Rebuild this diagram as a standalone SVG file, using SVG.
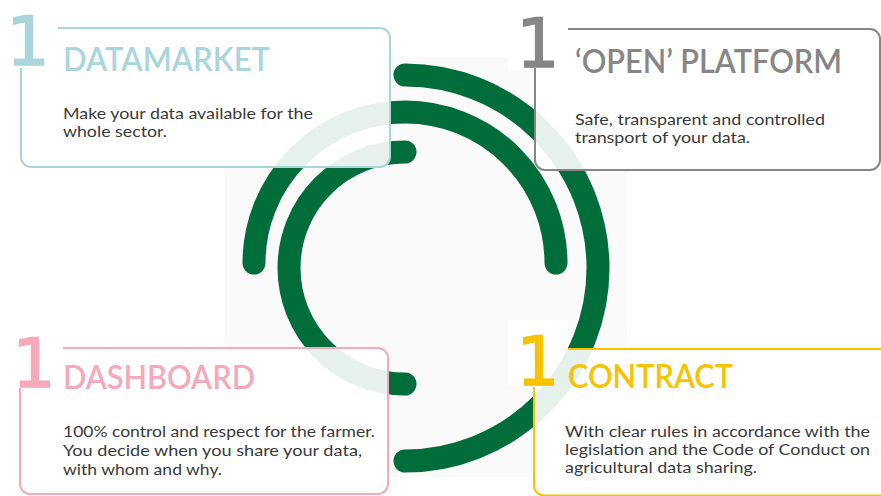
<svg xmlns="http://www.w3.org/2000/svg" width="881" height="496" viewBox="0 0 881 496">
  <style>
    .arc { fill: none; stroke: #006d3a; stroke-width: 23; stroke-linecap: round; }
    .fill { fill: #ffffff; fill-opacity: 0.9; stroke: none; }
    .cover { fill: #ffffff; fill-opacity: 0.9; stroke: none; }
    .edge { fill: none; stroke-width: 2; }
    .num { font-family: "DejaVu Sans", Lato, sans-serif; font-size: 68px; font-weight: normal; text-anchor: middle; stroke-width: 1.5; }
    .title { font-family: Lato, "Liberation Sans", sans-serif; font-size: 32px; font-weight: 600; }
    .body { font-family: Lato, "Liberation Sans", sans-serif; font-size: 15px; fill: #3a3a3a; }
    .teal { fill: #aad6db; } .tealS { stroke: #aad6db; }
    .grey { fill: #868686; } .greyS { stroke: #868686; }
    .pink { fill: #f5a9ba; } .pinkS { stroke: #f5a9ba; }
    .yell { fill: #f7c200; } .yellS { stroke: #f7c200; }
  </style>
  <rect width="881" height="496" fill="#ffffff"/>
  <rect id="backdrop" x="225" y="57" width="402" height="420" fill="#fafafa"/>

  <g id="connectors">
    <path class="arc" d="M405,75 A193,193 0 0 1 405,461"/>
    <path class="arc" d="M254,263 A151,151 0 0 1 556,263"/>
    <path class="arc" d="M405,152 A116,116 0 0 0 405,384"/>
  </g>

  <g id="datamarket">
    <rect class="fill" x="21" y="28" width="369" height="139" rx="10"/>
    <path class="edge tealS" d="M58,28 H380 A10,10 0 0 1 390,38 V157 A10,10 0 0 1 380,167 H31 A10,10 0 0 1 21,157 V68"/>
    <text class="num teal tealS" x="28" y="65">1</text>
    <text class="title teal" x="63" y="71" textLength="207" lengthAdjust="spacingAndGlyphs">DATAMARKET</text>
    <text class="body" x="63" y="119" textLength="250" lengthAdjust="spacingAndGlyphs">Make your data available for the</text>
    <text class="body" x="63" y="137" textLength="104" lengthAdjust="spacingAndGlyphs">whole sector.</text>
  </g>

  <g id="open-platform">
    <rect class="fill" x="535" y="29" width="345" height="141" rx="10"/>
    <path class="cover" d="M508,10 H568 V29 H535 V70 H508 Z"/>
    <path class="edge greyS" d="M568,29 H870 A10,10 0 0 1 880,39 V160 A10,10 0 0 1 870,170 H545 A10,10 0 0 1 535,160 V68"/>
    <text class="num grey greyS" x="538" y="67">1</text>
    <text class="title grey" x="575" y="73" textLength="267" lengthAdjust="spacingAndGlyphs">‘OPEN’ PLATFORM</text>
    <text class="body" x="575" y="125" textLength="250" lengthAdjust="spacingAndGlyphs">Safe, transparent and controlled</text>
    <text class="body" x="575" y="143" textLength="175" lengthAdjust="spacingAndGlyphs">transport of your data.</text>
  </g>

  <g id="dashboard">
    <rect class="fill" x="20" y="348" width="368" height="146" rx="10"/>
    <path class="edge pinkS" d="M63,348 H378 A10,10 0 0 1 388,358 V484 A10,10 0 0 1 378,494 H30 A10,10 0 0 1 20,484 V388"/>
    <text class="num pink pinkS" x="34" y="387">1</text>
    <text class="title pink" x="63" y="389" textLength="192" lengthAdjust="spacingAndGlyphs">DASHBOARD</text>
    <text class="body" x="63" y="437" textLength="312" lengthAdjust="spacingAndGlyphs">100% control and respect for the farmer.</text>
    <text class="body" x="63" y="456" textLength="299" lengthAdjust="spacingAndGlyphs">You decide when you share your data,</text>
    <text class="body" x="63" y="475" textLength="159" lengthAdjust="spacingAndGlyphs">with whom and why.</text>
  </g>

  <g id="contract">
    <rect class="fill" x="534" y="349" width="360" height="147" rx="10"/>
    <path class="cover" d="M508,320 H568 V349 H534 V386 H508 Z"/>
    <path class="edge yellS" d="M568,349 H900"/>
    <path class="edge yellS" d="M900,495.5 H544 A10,10 0 0 1 534,485.5 V387"/>
    <text class="num yell yellS" x="538" y="385">1</text>
    <text class="title yell" x="568" y="388" textLength="165" lengthAdjust="spacingAndGlyphs">CONTRACT</text>
    <text class="body" x="565" y="437" textLength="305" lengthAdjust="spacingAndGlyphs">With clear rules in accordance with the</text>
    <text class="body" x="565" y="455" textLength="305" lengthAdjust="spacingAndGlyphs">legislation and the Code of Conduct on</text>
    <text class="body" x="565" y="473" textLength="192" lengthAdjust="spacingAndGlyphs">agricultural data sharing.</text>
  </g>
</svg>
